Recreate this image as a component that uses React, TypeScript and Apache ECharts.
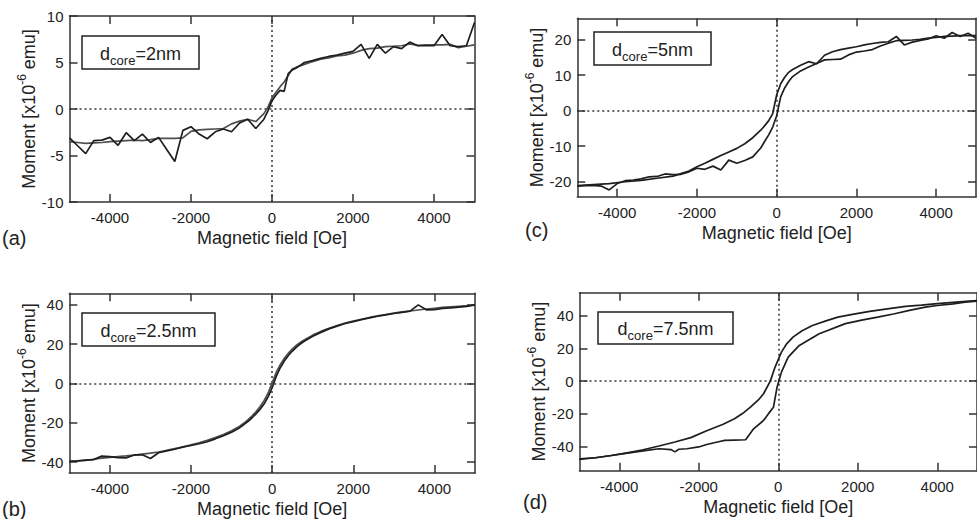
import React, { useEffect, useRef } from "react";
import * as echarts from "echarts";

// ---------------- data ----------------
const xTicks = [-4000, -2000, 0, 2000, 4000];
const yTicksA = [-10, -5, 0, 5, 10];
const yTicksB = [-40, -20, 0, 20, 40];
const yTicksC = [-20, -10, 0, 10, 20];
const yTicksD = [-40, -20, 0, 20, 40];

// panel (a) d_core = 2 nm
const fieldA = [-5000, -4800, -4600, -4400, -4200, -4000, -3800, -3600, -3400, -3200, -3000, -2800, -2600, -2400, -2200, -2000, -1800, -1600, -1400, -1200, -1000, -800, -600, -400, -200, -100, 0, 100, 200, 300, 400, 500, 600, 800, 1000, 1200, 1400, 1600, 1800, 2000, 2200, 2400, 2600, 2800, 3000, 3200, 3400, 3600, 3800, 4000, 4200, 4400, 4600, 4800, 5000];
const momentA1 = [-3.1, -3.95, -4.8, -3.4, -3.35, -3.05, -3.9, -2.55, -3.4, -2.7, -3.6, -3.05, -4.35, -5.65, -2.3, -1.9, -2.7, -3.2, -2.45, -2.15, -2.45, -1.5, -1.1, -2.1, -1.1, -0.2, 0.9, 1.5, 2.0, 1.9, 3.8, 4.2, 4.4, 5.0, 5.2, 5.45, 5.65, 5.8, 6.0, 6.2, 6.95, 5.45, 6.95, 6.0, 6.7, 6.5, 7.2, 6.8, 6.8, 6.8, 8.0, 6.8, 6.7, 6.8, 9.3];
const momentA2 = [-3.5, -3.6, -3.7, -3.65, -3.6, -3.5, -3.45, -3.4, -3.35, -3.4, -3.3, -3.15, -3.15, -3.15, -3.1, -2.4, -2.25, -2.2, -2.15, -2.1, -1.6, -1.3, -1.1, -1.35, -0.5, 0.2, 1.2, 1.8, 2.4, 2.9, 3.6, 4.3, 4.5, 4.8, 5.1, 5.35, 5.5, 5.7, 5.8, 6.0, 6.3, 6.5, 6.55, 6.7, 6.75, 6.8, 7.0, 6.85, 6.9, 6.9, 6.9, 6.95, 6.6, 6.75, 6.9];

// panel (b) d_core = 2.5 nm
const fieldB = [-5000, -4800, -4600, -4400, -4200, -4000, -3800, -3600, -3400, -3200, -3000, -2800, -2600, -2400, -2200, -2000, -1800, -1600, -1400, -1200, -1000, -800, -700, -600, -500, -400, -300, -200, -100, 0, 100, 200, 300, 400, 500, 600, 700, 800, 1000, 1200, 1400, 1600, 1800, 2000, 2200, 2400, 2600, 2800, 3000, 3200, 3400, 3600, 3800, 4000, 4200, 4400, 4600, 4800, 5000];
const momentB1 = [-39.7, -39.4, -39.0, -38.8, -37.0, -37.3, -37.8, -37.9, -36.4, -36.3, -38.2, -35.3, -34.3, -33.5, -32.3, -31.6, -30.7, -29.7, -28.2, -26.6, -24.8, -22.5, -21.0, -19.4, -17.6, -15.5, -13.2, -10.5, -6.8, -2.2, 3.6, 8.0, 11.4, 14.2, 16.5, 18.5, 20.2, 21.6, 24.0, 26.0, 27.8, 29.2, 30.5, 31.5, 32.5, 33.4, 34.2, 34.9, 35.6, 36.2, 36.8, 40.0, 37.5, 37.6, 38.2, 38.5, 38.9, 39.2, 40.0];
const momentB2 = [-39.8, -39.5, -39.2, -38.6, -38.0, -37.6, -37.2, -36.9, -36.5, -36.0, -35.5, -34.9, -34.1, -33.2, -32.4, -31.3, -30.2, -29.0, -27.6, -26.0, -24.1, -21.8, -20.3, -18.6, -16.6, -14.4, -11.9, -8.8, -5.0, 0.3, 5.6, 9.6, 12.8, 15.4, 17.6, 19.5, 21.0, 22.3, 24.6, 26.5, 28.1, 29.5, 30.7, 31.8, 32.7, 33.6, 34.4, 35.1, 35.8, 36.4, 36.9, 37.4, 37.9, 38.3, 38.7, 39.0, 39.3, 39.6, 40.0];

// panel (c) d_core = 5 nm
const fieldC1 = [-5000, -4600, -4200, -3800, -3400, -3000, -2600, -2200, -2000, -1800, -1600, -1400, -1200, -1000, -800, -600, -400, -300, -200, -100, 0, 100, 200, 300, 400, 600, 800, 1000, 1200, 1400, 1600, 1800, 2000, 2200, 2400, 2600, 2800, 3000, 3200, 3400, 3600, 3800, 4000, 4200, 4400, 4600, 4800, 5000];
const momentC1 = [-21.1, -20.8, -20.5, -20.0, -19.6, -19.0, -18.4, -17.0, -15.8, -14.8, -13.7, -12.6, -11.6, -10.6, -9.3, -7.6, -5.5, -4.2, -2.8, -0.8, 4.5, 7.6, 9.4, 10.8, 11.6, 12.8, 13.8, 13.2, 15.6, 16.6, 17.2, 17.6, 18.0, 18.5, 18.9, 19.2, 19.4, 20.9, 18.5, 19.3, 19.8, 20.2, 21.1, 20.4, 22.0, 20.9, 21.8, 20.4];
const fieldC2 = [-5000, -4800, -4600, -4400, -4200, -4000, -3800, -3600, -3400, -3200, -3000, -2800, -2600, -2400, -2200, -2000, -1800, -1600, -1400, -1200, -1000, -800, -600, -400, -300, -200, -100, 0, 100, 200, 300, 400, 600, 800, 1000, 1200, 1400, 1600, 1800, 2000, 2200, 2400, 2600, 2800, 3000, 3200, 3400, 3600, 3800, 4000, 4200, 4400, 4600, 4800, 5000];
const momentC2 = [-21.2, -21.1, -21.0, -21.2, -22.3, -20.5, -19.7, -19.5, -19.2, -18.6, -18.5, -17.8, -18.0, -17.9, -17.2, -16.2, -16.5, -15.6, -16.7, -13.9, -14.8, -14.0, -13.0, -10.5, -8.6, -6.8, -4.6, -1.4, 3.9, 6.4, 8.2, 9.6, 11.2, 12.3, 13.3, 14.3, 14.4, 14.5, 15.7, 16.5, 16.8, 17.2, 18.2, 19.0, 19.7, 19.8, 19.9, 20.1, 20.4, 20.6, 20.9, 21.0, 21.1, 21.1, 21.1];

// panel (d) d_core = 7.5 nm
const fieldD1 = [-5000, -4600, -4200, -3800, -3400, -3000, -2600, -2200, -1800, -1400, -1100, -900, -700, -500, -370, -200, -80, 80, 200, 370, 600, 860, 1200, 1500, 1900, 2300, 2700, 3200, 3600, 4000, 4400, 4800, 5000];
const momentD1 = [-47.4, -46.8, -45.4, -43.8, -41.9, -39.6, -37.2, -34.5, -30.3, -26.5, -23.0, -19.8, -15.9, -11.5, -7.7, 0.0, 8.6, 17.7, 22.4, 26.9, 30.8, 34.0, 36.8, 39.1, 40.9, 42.6, 44.0, 45.6, 46.4, 47.3, 48.1, 48.9, 49.2];
const fieldD2 = [-5000, -4600, -4200, -3800, -3400, -3000, -2700, -2600, -2500, -2300, -2000, -1800, -1500, -1350, -1100, -820, -620, -370, -250, -120, -30, 80, 250, 530, 1030, 1690, 2100, 2500, 2900, 3300, 3700, 4000, 4400, 4700, 5000];
const momentD2 = [-47.8, -46.8, -45.4, -44.0, -42.6, -41.3, -41.8, -43.2, -41.6, -41.3, -40.2, -38.7, -37.0, -36.2, -36.0, -35.8, -29.1, -24.0, -20.0, -15.9, -3.7, 5.5, 14.7, 21.8, 28.9, 35.1, 37.3, 39.1, 41.0, 43.2, 45.2, 46.2, 47.2, 48.2, 48.9];

const panelLetters = ["(a)", "(b)", "(c)", "(d)"];
const coreSizes = ["2nm", "2.5nm", "5nm", "7.5nm"];
const xTitle = "Magnetic field [Oe]";

// ---------------- layout / style ----------------
const FONT = "'Liberation Sans', Arial, Helvetica, sans-serif";
const INK = "#222";
const FRAME = "#333";
const C_DARK = "#1e1e1e";
const C_GRAY = "#4e4e4e";

const pairs = (xs: number[], ys: number[]) => xs.map((x, i) => [x, ys[i]]);
const plain = (v: number) => String(v);

type Panel = {
  grid: { left: number; right: number; top: number; bottom: number };
  yMin: number;
  yMax: number;
  yTicks: number[];
  curves: { data: number[][]; color: string }[];
  letter: string;
  letterPos: [number, number];
  core: string;
  box: [number, number, number, number];
};

const panels: Panel[] = [
  {
    grid: { left: 69.5, right: 502.5, top: 16, bottom: 317 },
    yMin: -10, yMax: 10, yTicks: yTicksA,
    curves: [
      { data: pairs(fieldA, momentA2), color: C_GRAY },
      { data: pairs(fieldA, momentA1), color: C_DARK },
    ],
    letter: panelLetters[0], letterPos: [2, 238],
    core: coreSizes[0], box: [82, 36, 117, 33],
  },
  {
    grid: { left: 69.3, right: 502, top: 293.3, bottom: 44.7 },
    yMin: -45.6, yMax: 45.9, yTicks: yTicksB,
    curves: [
      { data: pairs(fieldB, momentB2), color: C_GRAY },
      { data: pairs(fieldB, momentB1), color: C_DARK },
    ],
    letter: panelLetters[1], letterPos: [2, 509],
    core: coreSizes[1], box: [82, 313, 133, 33],
  },
  {
    grid: { left: 577.3, right: 0.9, top: 18.3, bottom: 322.3 },
    yMin: -24.2, yMax: 26, yTicks: yTicksC,
    curves: [
      { data: pairs(fieldC2, momentC2), color: C_DARK },
      { data: pairs(fieldC1, momentC1), color: C_DARK },
    ],
    letter: panelLetters[2], letterPos: [525, 230],
    core: coreSizes[2], box: [594, 32, 117, 33],
  },
  {
    grid: { left: 579.5, right: -7.5, top: 292.7, bottom: 48.3 },
    yMin: -54.7, yMax: 54, yTicks: yTicksD,
    curves: [
      { data: pairs(fieldD2, momentD2), color: C_DARK },
      { data: pairs(fieldD1, momentD1), color: C_DARK },
    ],
    letter: panelLetters[3], letterPos: [523, 502],
    core: coreSizes[3], box: [598, 312, 135, 32],
  },
];

function buildOption() {
  const grid: any[] = [];
  const xAxis: any[] = [];
  const yAxis: any[] = [];
  const series: any[] = [];
  const graphic: any[] = [];
  const lineStyle = { color: FRAME, width: 1.5 };

  panels.forEach((p, i) => {
    grid.push({ ...p.grid, containLabel: false });
    xAxis.push({
      type: "value", gridIndex: i, min: -5000, max: 5000, position: "bottom",
      axisLine: { show: true, onZero: false, lineStyle },
      axisTick: { show: true, inside: true, length: 8, customValues: xTicks, lineStyle },
      axisLabel: { show: true, customValues: xTicks, formatter: plain, fontSize: 15, color: INK, fontFamily: FONT, margin: 8 },
      splitLine: { show: false },
      name: xTitle, nameLocation: "middle", nameGap: 27,
      nameTextStyle: { fontSize: 18, color: INK, fontFamily: FONT },
    });
    xAxis.push({
      type: "value", gridIndex: i, min: -5000, max: 5000, position: "top",
      axisLine: { show: true, onZero: false, lineStyle },
      axisTick: { show: true, inside: true, length: 8, customValues: xTicks, lineStyle },
      axisLabel: { show: false },
      splitLine: { show: false },
    });
    yAxis.push({
      type: "value", gridIndex: i, min: p.yMin, max: p.yMax, position: "left",
      axisLine: { show: true, onZero: false, lineStyle },
      axisTick: { show: true, inside: true, length: 8, customValues: p.yTicks, lineStyle },
      axisLabel: { show: true, customValues: p.yTicks, formatter: plain, fontSize: 15, color: INK, fontFamily: FONT, margin: 6 },
      splitLine: { show: false },
      name: "{m|Moment [x10}{s|-6}{m| emu]}",
      nameLocation: "middle", nameRotate: 90, nameGap: 27.5,
      nameTextStyle: {
        color: INK, fontFamily: FONT,
        rich: {
          m: { fontSize: 18, lineHeight: 26, color: INK, fontFamily: FONT },
          s: { fontSize: 12, lineHeight: 12, verticalAlign: "top", color: INK, fontFamily: FONT },
        },
      },
    });
    yAxis.push({
      type: "value", gridIndex: i, min: p.yMin, max: p.yMax, position: "right",
      axisLine: { show: true, onZero: false, lineStyle },
      axisTick: { show: true, inside: true, length: 8, customValues: p.yTicks, lineStyle },
      axisLabel: { show: false },
      splitLine: { show: false },
    });

    p.curves.forEach((c, k) => {
      const s: any = {
        type: "line", xAxisIndex: 2 * i, yAxisIndex: 2 * i,
        data: c.data, showSymbol: false, symbol: "none", silent: true, clip: true,
        lineStyle: { color: c.color, width: 1.7 },
        z: 3,
      };
      if (k === 0) {
        s.markLine = {
          silent: true, symbol: "none", label: { show: false }, z: 2,
          lineStyle: { type: [2, 3], color: FRAME, width: 1.5 },
          data: [{ xAxis: 0 }, { yAxis: 0 }],
        };
      }
      series.push(s);
    });

    graphic.push({
      type: "text", x: p.letterPos[0], y: p.letterPos[1],
      style: { text: p.letter, fontSize: 20, fill: INK, fontFamily: FONT, verticalAlign: "middle", align: "left" },
    });
    const [bx, by, bw, bh] = p.box;
    graphic.push({
      type: "rect", shape: { x: bx, y: by, width: bw, height: bh },
      style: { fill: "#fff", stroke: "#222", lineWidth: 1.5 }, z: 10,
    });
    graphic.push({
      type: "text", x: bx + bw / 2, y: by + bh / 2 + 1, z: 11,
      style: {
        text: "{d|d}{s|core}{d|=" + p.core + "}",
        align: "center", verticalAlign: "middle", fill: INK,
        rich: {
          d: { fontSize: 18, lineHeight: 26, fontFamily: FONT, fill: INK, color: INK },
          s: { fontSize: 13, lineHeight: 13, verticalAlign: "bottom", fontFamily: FONT, fill: INK, color: INK },
        },
      },
    });
  });

  return {
    animation: false,
    backgroundColor: "#fff",
    textStyle: { fontFamily: FONT },
    grid, xAxis, yAxis, series, graphic,
  };
}

export default function App() {
  const ref = useRef<HTMLDivElement>(null);
  useEffect(() => {
    if (!ref.current) return;
    const chart = echarts.init(ref.current, null, { renderer: "svg" });
    chart.setOption(buildOption() as any);
    return () => chart.dispose();
  }, []);
  return (
    <div
      ref={ref}
      style={{ position: "absolute", left: 0, top: 0, width: 977, height: 519, background: "#fff" }}
    />
  );
}
